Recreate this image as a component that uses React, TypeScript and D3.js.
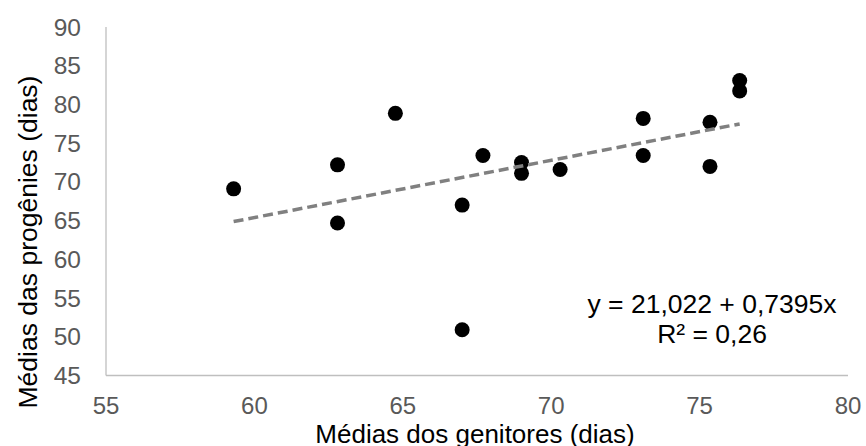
import React from 'react';
import * as d3 from 'd3';

// genitor means (x) and progeny means (y), in days
const parentMeans = [59.3, 62.8, 62.8, 64.75, 67.0, 67.0, 67.7, 69.0, 69.0, 70.3, 73.1, 73.1, 75.35, 75.35, 76.35, 76.35];
const progenyMeans = [69.1, 72.2, 64.7, 78.85, 67.0, 50.9, 73.4, 72.5, 71.1, 71.6, 78.2, 73.4, 77.7, 72.0, 83.1, 81.75];

const xTicks = [55, 60, 65, 70, 75, 80];
const yTicks = [45, 50, 55, 60, 65, 70, 75, 80, 85, 90];

const intercept = 21.022;
const slope = 0.7395;
const equationLabel = 'y = 21,022 + 0,7395x';
const r2Label = 'R² = 0,26';

const W = 866;
const H = 446;
const font = '"Liberation Sans", Arial, sans-serif';

export default function App() {
  const x = d3.scaleLinear().domain([55, 80]).range([106, 848]);
  const y = d3.scaleLinear().domain([45, 90]).range([375.5, 27]);

  const xMin = d3.min(parentMeans) as number;
  const xMax = d3.max(parentMeans) as number;
  const trend = d3.line<number>()
    .x((d) => x(d))
    .y((d) => y(intercept + slope * d))([xMin, xMax]);

  return (
    <svg width={W} height={H} style={{ position: 'absolute', left: 0, top: 0, background: '#fff' }}>
      {/* axes */}
      <line x1={x(55)} x2={x(55)} y1={y(90)} y2={y(45)} stroke="#bfbfbf" strokeWidth={1.3} />
      <line x1={x(55)} x2={x(80)} y1={y(45)} y2={y(45)} stroke="#bfbfbf" strokeWidth={1.3} />

      {yTicks.map((t) => (
        <text key={'y' + t} x={81} y={y(t) + 8.5} textAnchor="end" fontFamily={font} fontSize={24.5} fill="#595959">
          {t}
        </text>
      ))}
      {xTicks.map((t) => (
        <text key={'x' + t} x={x(t)} y={414} textAnchor="middle" fontFamily={font} fontSize={24} fill="#595959">
          {t}
        </text>
      ))}

      <text x={475} y={443} textAnchor="middle" fontFamily={font} fontSize={26} fill="#000">
        Médias dos genitores (dias)
      </text>
      <text transform={`translate(37,242) rotate(-90)`} textAnchor="middle" fontFamily={font} fontSize={26.5} fill="#000">
        Médias das progênies (dias)
      </text>

      {parentMeans.map((d, i) => (
        <circle key={i} cx={x(d)} cy={y(progenyMeans[i])} r={7.5} fill="#000" />
      ))}

      <path d={trend || ''} fill="none" stroke="#808080" strokeWidth={3.5} strokeDasharray="10,5" />

      <text x={712} y={313} textAnchor="middle" fontFamily={font} fontSize={26.5} fill="#000">
        {equationLabel}
      </text>
      <text x={712} y={343} textAnchor="middle" fontFamily={font} fontSize={26.5} fill="#000">
        {r2Label}
      </text>
    </svg>
  );
}
